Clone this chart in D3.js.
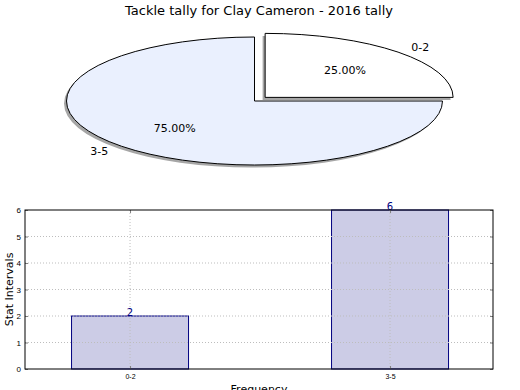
<!DOCTYPE html>
<meta charset="utf-8">
<script src="https://d3js.org/d3.v7.min.js"></script>
<style>
body { margin:0; background:#fff; }
svg { font-family:"DejaVu Sans", sans-serif; }
.grid line { stroke:#bdbdbd; stroke-dasharray:1,2; stroke-width:1; }
.axis path { stroke:none; }
.axis line { stroke:#808080; }
.axis text { font-size:7px; fill:#000; }
.axis.yl text { font-size:8px; }
</style>
<body></body>
<script>

var title = "Tackle tally for Clay Cameron - 2016 tally";
var categories = ["0-2", "3-5"];
var counts = [2, 6];
var sliceColors = ["#ffffff", "#eaf0fe"];
var explode = [0.08, 0];
var yTicks = [0, 1, 2, 3, 4, 5, 6];

var W = 520, H = 390;
var svg = d3.select("body").append("svg")
  .attr("width", W)
  .attr("height", H);

svg.append("text")
  .attr("x", 259).attr("y", 15)
  .attr("text-anchor", "middle")
  .style("font-size", "13px")
  .text(title);

// ---- pie (squashed into an ellipse) ----
var cx = 254.5, cy = 101, rx = 188, ry = 64;
var total = d3.sum(counts);

var pie = d3.pie().sort(null).startAngle(0).endAngle(2 * Math.PI);
var arcs = pie(counts);
var arc = d3.arc().innerRadius(0).outerRadius(1);

var pieG = svg.append("g");

arcs.forEach(function(a, i) {
  var mid = (a.startAngle + a.endAngle) / 2;
  var ex = Math.sin(mid) * explode[i] * rx,
      ey = -Math.cos(mid) * explode[i] * ry;
  var px = cx + ex, py = cy + ey;

  // shadow
  pieG.append("path")
    .attr("d", arc(a))
    .attr("transform", "translate(" + (px - 2.5) + "," + (py + 2.5) + ") scale(" + rx + "," + ry + ")")
    .attr("fill", "#4d4d4d")
    .attr("fill-opacity", 0.5)
    .attr("stroke", "none");

  pieG.append("path")
    .attr("d", arc(a))
    .attr("transform", "translate(" + px + "," + py + ") scale(" + rx + "," + ry + ")")
    .attr("fill", sliceColors[i])
    .attr("stroke", "#000")
    .attr("stroke-width", 1)
    .attr("vector-effect", "non-scaling-stroke");

  var lx = px + Math.sin(mid) * 1.1 * rx,
      ly = py - Math.cos(mid) * 1.1 * ry;
  pieG.append("text")
    .attr("x", lx).attr("y", ly)
    .attr("dy", "0.35em")
    .attr("text-anchor", Math.sin(mid) > 0 ? "start" : "end")
    .style("font-size", "11px")
    .text(categories[i]);

  pieG.append("text")
    .attr("x", px + Math.sin(mid) * 0.6 * rx)
    .attr("y", py - Math.cos(mid) * 0.6 * ry)
    .attr("dy", "0.35em")
    .attr("text-anchor", "middle")
    .style("font-size", "11px")
    .text((counts[i] / total * 100).toFixed(2) + "%");
});

// ---- bar chart ----
var pLeft = 25, pRight = 493, pTop = 210, pBottom = 369;

var x = d3.scaleLinear().domain([-0.404, 1.396]).range([pLeft, pRight]);
var y = d3.scaleLinear().domain([0, 6]).range([pBottom, pTop]);
var barW = 0.45;

svg.selectAll(".bar").data(counts).enter().append("rect")
  .attr("class", "bar")
  .attr("x", function(d, i) { return x(i - barW / 2); })
  .attr("width", function(d, i) { return x(i + barW / 2) - x(i - barW / 2); })
  .attr("y", function(d) { return y(d); })
  .attr("height", function(d) { return pBottom - y(d); })
  .attr("fill", "#000080")
  .attr("fill-opacity", 0.2)
  .attr("stroke", "#000080")
  .attr("stroke-width", 1);

var grid = svg.append("g").attr("class", "grid");
grid.selectAll(".gy").data(yTicks.slice(1, -1)).enter().append("line")
  .attr("x1", pLeft).attr("x2", pRight)
  .attr("y1", function(d) { return y(d); })
  .attr("y2", function(d) { return y(d); });
grid.selectAll(".gx").data(categories).enter().append("line")
  .attr("x1", function(d, i) { return x(i); })
  .attr("x2", function(d, i) { return x(i); })
  .attr("y1", pTop).attr("y2", pBottom);

svg.selectAll(".val").data(counts).enter().append("text")
  .attr("x", function(d, i) { return x(i); })
  .attr("y", function(d) { return y(d); })
  .attr("text-anchor", "middle")
  .attr("fill", "#000080")
  .style("font-size", "10px")
  .text(function(d) { return d; });

var yAxisL = d3.axisLeft(y).tickValues(yTicks).tickSize(-3).tickPadding(4).tickFormat(d3.format("d"));
var yAxisR = d3.axisRight(y).tickValues(yTicks).tickSize(-3).tickFormat("");
var xAxisB = d3.axisBottom(x).tickValues([0, 1]).tickSize(-3).tickPadding(5)
  .tickFormat(function(d) { return categories[d]; });
var xAxisT = d3.axisTop(x).tickValues([0, 1]).tickSize(-3).tickFormat("");

svg.append("g").attr("class", "axis yl").attr("transform", "translate(" + pLeft + ",0)").call(yAxisL);
svg.append("g").attr("class", "axis").attr("transform", "translate(" + pRight + ",0)").call(yAxisR);
svg.append("g").attr("class", "axis").attr("transform", "translate(0," + pBottom + ")").call(xAxisB);
svg.append("g").attr("class", "axis").attr("transform", "translate(0," + pTop + ")").call(xAxisT);

svg.append("rect")
  .attr("x", pLeft).attr("y", pTop)
  .attr("width", pRight - pLeft).attr("height", pBottom - pTop)
  .attr("fill", "none").attr("stroke", "#000").attr("stroke-width", 1);

svg.append("text")
  .attr("transform", "translate(13," + ((pTop + pBottom) / 2) + ") rotate(-90)")
  .attr("text-anchor", "middle")
  .style("font-size", "11px")
  .text("Stat Intervals");

svg.append("text")
  .attr("x", (pLeft + pRight) / 2).attr("y", 393)
  .attr("text-anchor", "middle")
  .style("font-size", "11px")
  .text("Frequency");

</script>
